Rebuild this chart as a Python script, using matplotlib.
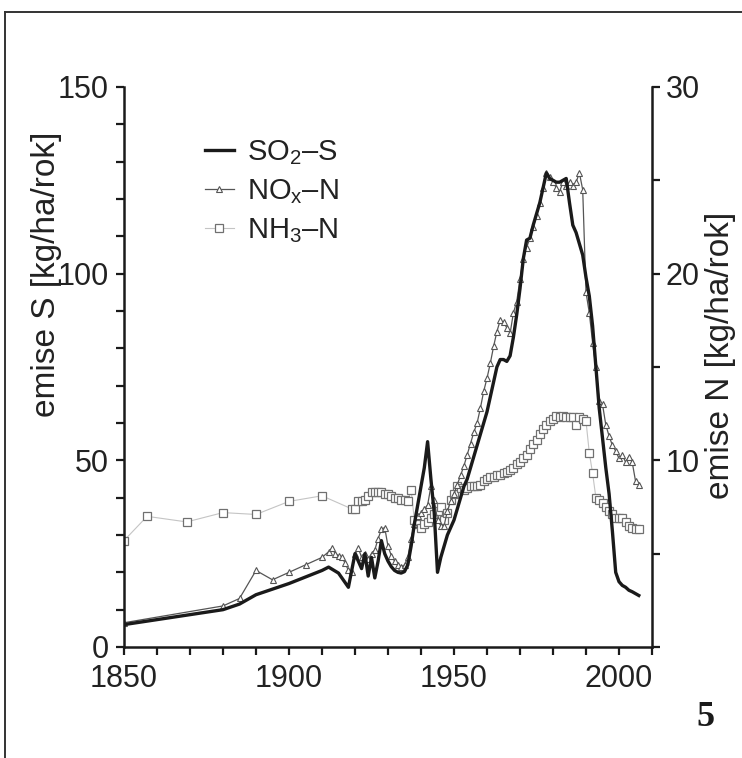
import matplotlib
matplotlib.use("Agg")
import matplotlib.pyplot as plt
from matplotlib.ticker import MultipleLocator, FixedLocator, FixedFormatter
from matplotlib.lines import Line2D

plt.rcParams['font.family'] = ['Liberation Sans', 'DejaVu Sans']
plt.rcParams['mathtext.fontset'] = 'custom'
plt.rcParams['mathtext.rm'] = 'Liberation Sans'
plt.rcParams['mathtext.it'] = 'Liberation Sans'

# ---- data ----
so2_years = [1850, 1880, 1885, 1890, 1900, 1910, 1912, 1915, 1918, 1919, 1920, 1921, 1922, 1923,
             1924, 1925, 1926, 1927, 1928, 1929, 1930, 1931, 1932, 1933, 1934, 1935, 1936, 1937,
             1938, 1939, 1940, 1941, 1942, 1943, 1944, 1945, 1946, 1947, 1948, 1949, 1950, 1951,
             1952, 1953, 1954, 1955, 1956, 1957, 1958, 1959, 1960, 1961, 1962, 1963, 1964, 1965,
             1966, 1967, 1968, 1969, 1970, 1971, 1972, 1973, 1974, 1975, 1976, 1977, 1978, 1979,
             1980, 1981, 1982, 1983, 1984, 1985, 1986, 1987, 1988, 1989, 1990, 1991, 1992, 1993,
             1994, 1995, 1996, 1997, 1998, 1999, 2000, 2001, 2002, 2003, 2004, 2005, 2006]
so2_s = [6, 10, 11.5, 14, 17, 20.5, 21.4, 19.8, 16, 20.5, 25, 23, 21, 25,
         19, 24, 18.5, 23, 28.5, 25, 23, 21.5, 20.5, 20, 19.8, 20.2, 22, 27,
         33, 38, 43, 48, 55, 45, 36, 20, 24, 27, 30, 32, 34, 37,
         40, 43, 45, 48, 51, 54, 57, 60, 63, 67, 71, 75, 77, 77,
         76.5, 78, 83, 89, 96, 104, 109, 109.5, 113, 116, 119, 123, 127, 125.5,
         125, 124.5, 124.5, 125, 125.5, 119, 113, 111, 108, 105, 99, 94, 86, 75,
         64, 56, 48, 41, 31, 20, 17.5, 16.5, 16, 15.2, 14.8, 14.3, 13.8]

nox_years = [1850, 1880, 1885, 1890, 1895, 1900, 1905, 1910, 1912, 1913, 1914, 1915, 1916, 1917,
             1918, 1919, 1920, 1921, 1922, 1923, 1924, 1925, 1926, 1927, 1928, 1929, 1930, 1931,
             1932, 1933, 1934, 1935, 1936, 1937, 1938, 1939, 1940, 1941, 1942, 1943, 1944, 1945,
             1946, 1947, 1948, 1949, 1950, 1951, 1952, 1953, 1954, 1955, 1956, 1957, 1958, 1959,
             1960, 1961, 1962, 1963, 1964, 1965, 1966, 1967, 1968, 1969, 1970, 1971, 1972, 1973,
             1974, 1975, 1976, 1977, 1978, 1979, 1980, 1981, 1982, 1983, 1984, 1985, 1986, 1987,
             1988, 1989, 1990, 1991, 1992, 1993, 1994, 1995, 1996, 1997, 1998, 1999, 2000, 2001,
             2002, 2003, 2004, 2005, 2006]
nox_n = [1.3, 2.2, 2.6, 4.1, 3.6, 4.0, 4.4, 4.8, 5.1, 5.3, 5.0, 4.9, 4.8, 4.5,
         4.1, 4.0, 5.0, 5.3, 4.8, 5.0, 4.7, 5.0, 5.2, 5.8, 6.3, 6.4, 5.4, 4.9,
         4.6, 4.4, 4.3, 4.4, 4.8, 5.8, 6.6, 7.0, 7.2, 7.4, 7.6, 8.6, 7.9, 6.8,
         6.5, 6.5, 7.3, 7.8, 8.2, 8.7, 9.2, 9.7, 10.3, 10.9, 11.5, 12.0, 12.8, 13.7,
         14.4, 15.2, 16.1, 16.9, 17.5, 17.4, 17.1, 16.8, 17.9, 18.5, 19.7, 20.8, 21.4, 21.9,
         22.5, 23.1, 23.8, 24.6, 25.4, 25.2, 24.9, 24.6, 24.4, 24.9, 24.7, 24.9, 24.7, 24.9,
         25.4, 24.5, 19.0, 17.9, 16.3, 15.0, 13.2, 13.0, 11.9, 11.3, 10.8, 10.5, 10.1, 10.3,
         9.9, 10.2, 9.9, 8.9, 8.7]

nh3_years = [1850, 1857, 1869, 1880, 1890, 1900, 1910, 1919, 1920, 1921, 1922, 1923, 1924, 1925,
             1926, 1927, 1928, 1929, 1930, 1931, 1932, 1933, 1934, 1935, 1936, 1937, 1938, 1939,
             1940, 1941, 1942, 1943, 1944, 1945, 1946, 1947, 1948, 1949, 1950, 1951, 1952, 1953,
             1954, 1955, 1956, 1957, 1958, 1959, 1960, 1961, 1962, 1963, 1964, 1965, 1966, 1967,
             1968, 1969, 1970, 1971, 1972, 1973, 1974, 1975, 1976, 1977, 1978, 1979, 1980, 1981,
             1982, 1983, 1984, 1985, 1986, 1987, 1988, 1989, 1990, 1991, 1992, 1993, 1994, 1995,
             1996, 1997, 1998, 1999, 2000, 2001, 2002, 2003, 2004, 2005, 2006]
nh3_n = [5.7, 7.0, 6.7, 7.2, 7.1, 7.8, 8.1, 7.4, 7.4, 7.8, 7.8, 7.9, 8.1, 8.3,
         8.3, 8.3, 8.3, 8.2, 8.2, 8.1, 8.0, 8.0, 7.9, 7.9, 7.8, 8.4, 6.8, 6.6,
         6.4, 6.6, 6.7, 6.9, 7.1, 7.3, 7.5, 6.8, 7.2, 7.9, 8.2, 8.6, 8.5, 8.4,
         8.5, 8.6, 8.6, 8.6, 8.7, 8.9, 9.0, 9.1, 9.1, 9.2, 9.2, 9.3, 9.4, 9.5,
         9.6, 9.8, 9.9, 10.1, 10.3, 10.6, 10.9, 11.1, 11.4, 11.7, 11.9, 12.1, 12.2, 12.4,
         12.3, 12.4, 12.3, 12.3, 12.3, 11.9, 12.3, 12.2, 12.1, 10.4, 9.3, 8.0, 7.9, 7.7,
         7.5, 7.3, 7.1, 6.9, 6.9, 6.9, 6.7, 6.5, 6.4, 6.3, 6.3]

labels = ['SO$_2$–S', 'NO$_x$–N', 'NH$_3$–N']
left_label = 'emise S [kg/ha/rok]'
right_label = 'emise N [kg/ha/rok]'
x_ticklabels = ['1850', '1900', '1950', '2000']
left_ticklabels = ['0', '50', '100', '150']
right_ticklabels = ['10', '20', '30']

# ---- figure ----
W, H = 742, 758
fig = plt.figure(figsize=(W / 100, H / 100), dpi=100)
ax = fig.add_axes([124 / W, 1 - 647 / H, (652 - 124) / W, (647 - 87) / H])
ax2 = ax.twinx()
ax.set_zorder(ax2.get_zorder() + 1)
ax.patch.set_visible(False)

txt_col = '#222222'
ax2.plot(nh3_years, nh3_n, color='#c4c4c4', lw=0.8, marker='s', markersize=5.5,
         markerfacecolor='white', markeredgecolor='#707070', markeredgewidth=0.9,
         label=labels[2], zorder=2)
ax2.plot(nox_years, nox_n, color='#555555', lw=0.9, marker='^', markersize=4.8,
         markerfacecolor='white', markeredgecolor='#555555', markeredgewidth=0.8,
         label=labels[1], zorder=3)
ax.plot(so2_years, so2_s, color='#1a1a1a', lw=2.4, label=labels[0], zorder=4)

ax.set_xlim(1850, 2010)
ax.set_ylim(0, 150)
ax2.set_ylim(0, 30)

# ticks
ax.xaxis.set_major_locator(FixedLocator([1850, 1900, 1950, 2000]))
ax.xaxis.set_major_formatter(FixedFormatter(x_ticklabels))
ax.xaxis.set_minor_locator(FixedLocator(list(range(1860, 2011, 10))))
ax.yaxis.set_major_locator(FixedLocator([0, 50, 100, 150]))
ax.yaxis.set_major_formatter(FixedFormatter(left_ticklabels))
ax.yaxis.set_minor_locator(MultipleLocator(10))
ax2.yaxis.set_major_locator(FixedLocator([10, 20, 30]))
ax2.yaxis.set_major_formatter(FixedFormatter(right_ticklabels))
ax2.yaxis.set_minor_locator(MultipleLocator(5))

for a in (ax, ax2):
    a.tick_params(which='both', direction='out', length=6, width=1.6, colors='#1a1a1a',
                  labelcolor=txt_col, labelsize=22)
ax.tick_params(axis='y', which='major', pad=5)
ax.tick_params(axis='x', which='major', pad=6)
ax2.tick_params(axis='y', which='major', pad=4)
ax2.tick_params(axis='x', which='both', length=0)

for a in (ax, ax2):
    a.spines['top'].set_visible(False)
    for s in ('left', 'right', 'bottom'):
        a.spines[s].set_linewidth(1.8)
        a.spines[s].set_color('#1a1a1a')
ax.spines['right'].set_visible(False)
ax2.spines['left'].set_visible(False)
ax2.spines['bottom'].set_visible(False)

ax.set_ylabel(left_label, fontsize=24, color=txt_col)
ax.yaxis.set_label_coords(-0.118, 0.665)
ax2.set_ylabel(right_label, fontsize=24, color=txt_col)
ax2.yaxis.set_label_coords(1.10, 0.52)

handles = ax.get_lines()[:1] + ax2.get_lines()[::-1]
leg = ax.legend(handles, labels, loc='upper left', bbox_to_anchor=(0.153, 0.908),
                frameon=False, fontsize=21, handlelength=1.0, handletextpad=0.45,
                labelspacing=0.35, borderpad=0, borderaxespad=0, labelcolor=txt_col)

# page frame and panel number
fig.add_artist(Line2D([5 / W, 1.0], [1 - 12 / H, 1 - 12 / H], color='#333333', lw=1.4))
fig.add_artist(Line2D([5 / W, 5 / W], [0.0, 1 - 12 / H], color='#333333', lw=1.4))
fig.text(705 / W, 1 - 718 / H, '5', family=['Liberation Serif', 'DejaVu Serif'],
         fontweight='bold', fontsize=26, ha='center', va='center', color='#1a1a1a')

fig.savefig('out.png', dpi=100)
